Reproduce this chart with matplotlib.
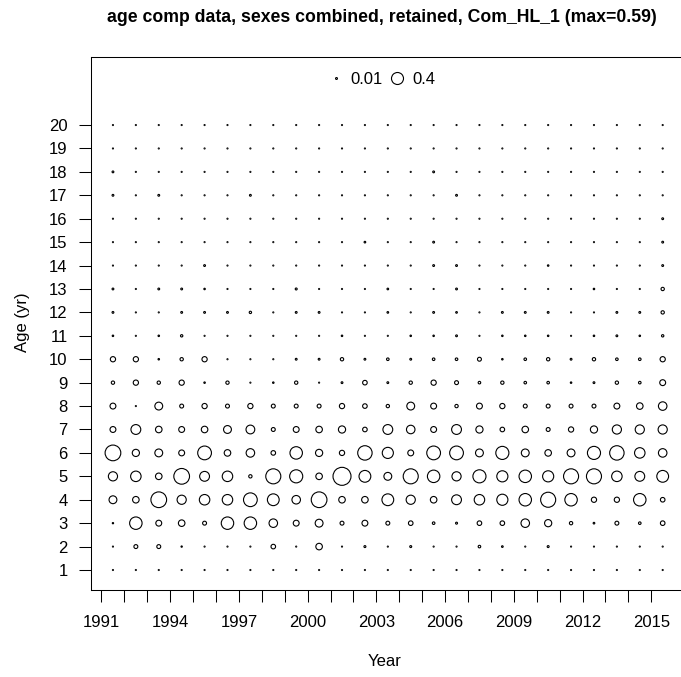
import numpy as np
import matplotlib
matplotlib.use("Agg")
import matplotlib.pyplot as plt
from matplotlib.lines import Line2D

plt.rcParams['font.family'] = ['Liberation Sans', 'DejaVu Sans']

years = list(range(1991, 2016))
ages = list(range(1, 21))
tick_labels = ['1991', '1994', '1997', '2000', '2003', '2006', '2009', '2012', '2015']

# proportion at age by year (1991 ... 2015)
age01 = [0.001, 0.001, 0.001, 0.001, 0.001, 0.001, 0.001, 0.001, 0.001, 0.001, 0.001, 0.001, 0.001,
         0.001, 0.001, 0.001, 0.001, 0.001, 0.001, 0.001, 0.001, 0.001, 0.001, 0.001, 0.001]
age02 = [0.001, 0.028, 0.028, 0.003, 0.001, 0.001, 0.001, 0.038, 0.001, 0.078, 0.001, 0.007, 0.001,
         0.007, 0.001, 0.001, 0.012, 0.005, 0.001, 0.007, 0.001, 0.001, 0.001, 0.001, 0.001]
age03 = [0.003, 0.282, 0.063, 0.078, 0.028, 0.282, 0.282, 0.132, 0.063, 0.112, 0.028, 0.063, 0.028,
         0.038, 0.012, 0.007, 0.038, 0.038, 0.132, 0.094, 0.020, 0.005, 0.028, 0.012, 0.038]
age04 = [0.112, 0.078, 0.449, 0.153, 0.200, 0.200, 0.344, 0.253, 0.132, 0.449, 0.078, 0.078, 0.253,
         0.153, 0.078, 0.176, 0.200, 0.225, 0.282, 0.412, 0.282, 0.050, 0.050, 0.282, 0.038]
age05 = [0.153, 0.200, 0.078, 0.449, 0.176, 0.200, 0.020, 0.412, 0.312, 0.078, 0.590, 0.253, 0.112,
         0.412, 0.282, 0.153, 0.312, 0.225, 0.282, 0.225, 0.412, 0.412, 0.200, 0.176, 0.253]
age06 = [0.449, 0.094, 0.112, 0.063, 0.344, 0.078, 0.132, 0.038, 0.282, 0.094, 0.050, 0.378, 0.225,
         0.063, 0.344, 0.344, 0.112, 0.312, 0.112, 0.078, 0.112, 0.312, 0.378, 0.200, 0.132]
age07 = [0.063, 0.176, 0.078, 0.063, 0.078, 0.112, 0.140, 0.028, 0.063, 0.078, 0.094, 0.038, 0.176,
         0.132, 0.063, 0.176, 0.094, 0.038, 0.078, 0.028, 0.050, 0.094, 0.153, 0.153, 0.153]
age08 = [0.063, 0.001, 0.112, 0.028, 0.050, 0.028, 0.050, 0.028, 0.028, 0.028, 0.050, 0.038, 0.020,
         0.112, 0.063, 0.020, 0.063, 0.050, 0.028, 0.028, 0.028, 0.028, 0.063, 0.078, 0.132]
age09 = [0.020, 0.050, 0.020, 0.050, 0.004, 0.020, 0.001, 0.004, 0.020, 0.002, 0.006, 0.038, 0.006,
         0.020, 0.050, 0.028, 0.012, 0.020, 0.012, 0.012, 0.004, 0.006, 0.020, 0.012, 0.063]
age10 = [0.050, 0.050, 0.004, 0.020, 0.050, 0.001, 0.001, 0.001, 0.006, 0.006, 0.020, 0.006, 0.012,
         0.006, 0.012, 0.012, 0.028, 0.004, 0.012, 0.020, 0.006, 0.020, 0.012, 0.012, 0.050]
age11 = [0.004, 0.002, 0.004, 0.010, 0.002, 0.002, 0.002, 0.002, 0.002, 0.002, 0.004, 0.002, 0.002,
         0.004, 0.004, 0.006, 0.002, 0.004, 0.004, 0.004, 0.002, 0.004, 0.006, 0.004, 0.010]
age12 = [0.006, 0.001, 0.001, 0.006, 0.006, 0.006, 0.010, 0.001, 0.006, 0.006, 0.001, 0.001, 0.005,
         0.001, 0.006, 0.005, 0.001, 0.006, 0.006, 0.006, 0.001, 0.001, 0.006, 0.006, 0.020]
age13 = [0.006, 0.001, 0.006, 0.006, 0.004, 0.001, 0.001, 0.001, 0.007, 0.001, 0.001, 0.001, 0.005,
         0.001, 0.001, 0.006, 0.001, 0.001, 0.001, 0.001, 0.001, 0.004, 0.001, 0.001, 0.020]
age14 = [0.001, 0.001, 0.001, 0.001, 0.006, 0.001, 0.001, 0.001, 0.001, 0.001, 0.001, 0.001, 0.001,
         0.001, 0.006, 0.006, 0.001, 0.001, 0.001, 0.004, 0.001, 0.001, 0.001, 0.001, 0.006]
age15 = [0.001, 0.001, 0.001, 0.001, 0.001, 0.001, 0.001, 0.001, 0.001, 0.001, 0.001, 0.005, 0.001,
         0.001, 0.006, 0.001, 0.001, 0.001, 0.001, 0.001, 0.001, 0.001, 0.001, 0.001, 0.006]
age16 = [0.001, 0.001, 0.001, 0.001, 0.001, 0.001, 0.001, 0.001, 0.001, 0.001, 0.001, 0.001, 0.001,
         0.001, 0.001, 0.001, 0.001, 0.001, 0.001, 0.001, 0.001, 0.001, 0.001, 0.001, 0.006]
age17 = [0.006, 0.001, 0.006, 0.001, 0.001, 0.001, 0.006, 0.001, 0.001, 0.001, 0.001, 0.001, 0.001,
         0.001, 0.001, 0.006, 0.001, 0.001, 0.001, 0.001, 0.001, 0.001, 0.001, 0.001, 0.001]
age18 = [0.006, 0.001, 0.001, 0.001, 0.001, 0.001, 0.001, 0.001, 0.001, 0.001, 0.001, 0.001, 0.001,
         0.001, 0.006, 0.001, 0.001, 0.001, 0.001, 0.001, 0.001, 0.001, 0.001, 0.001, 0.001]
age19 = [0.001, 0.001, 0.001, 0.001, 0.001, 0.001, 0.001, 0.001, 0.001, 0.001, 0.001, 0.001, 0.001,
         0.001, 0.001, 0.001, 0.001, 0.001, 0.001, 0.001, 0.001, 0.001, 0.001, 0.001, 0.001]
age20 = [0.001, 0.001, 0.001, 0.001, 0.001, 0.001, 0.001, 0.001, 0.001, 0.001, 0.001, 0.001, 0.001,
         0.001, 0.001, 0.001, 0.001, 0.001, 0.001, 0.001, 0.001, 0.001, 0.001, 0.001, 0.001]

comps = [age01, age02, age03, age04, age05, age06, age07, age08, age09, age10,
         age11, age12, age13, age14, age15, age16, age17, age18, age19, age20]
legend_vals = [0.01, 0.4]

pmax = max(max(row) for row in comps)


def bubble_pt(p):
    # bubble diameter in points, area proportional to p
    d_px = max(18.0 * np.sqrt(p / pmax), 1.3)
    return d_px * 72 / 100


fig = plt.figure(figsize=(6.81, 6.77), dpi=100)
ax = fig.add_axes([0.1329, 0.1285, 0.8725, 0.7878])

x = np.array(years) + 0.5
for age, row in zip(ages, comps):
    sizes = [bubble_pt(p) ** 2 for p in row]
    lws = [0.8 if p > 0.002 else 0.6 for p in row]
    ax.scatter(x, [age] * len(x), s=sizes, facecolors='none', edgecolors='black',
               linewidths=lws, zorder=3)

ax.set_xlim(1990.52, 2016.46)
ax.set_ylim(0.146, 22.92)

ax.set_xticks(years)
ax.set_xticklabels([str(y) if str(y) in tick_labels else '' for y in years])
ax.set_yticks(ages)
ax.set_yticklabels([str(a) for a in ages])
ax.tick_params(axis='both', length=8.5, width=0.75, labelsize=12, pad=8, color='black')
ax.tick_params(axis='x', pad=9.5)
for sp in ax.spines.values():
    sp.set_linewidth(0.75)

# legend circles drawn a little smaller than the data scale, as in the source
handles = [Line2D([], [], marker='o', ls='none', mfc='none', mec='black', mew=0.8,
                  markersize=bubble_pt(v) * 0.81) for v in legend_vals]
ax.legend(handles, [str(v) for v in legend_vals], loc='center', bbox_to_anchor=(0.489, 0.958),
          ncol=2, frameon=False, handletextpad=0.4, columnspacing=0.35, handlelength=1.0,
          fontsize=12, borderpad=0)

cx = 0.1329 + 0.8725 / 2
fig.text(cx - 0.008, 1 - 18 / 677, 'age comp data, sexes combined, retained, Com_HL_1 (max=0.59)',
         ha='center', va='center', fontsize=12.7, fontweight='bold')
fig.text(cx - 0.004, 1 - 662 / 677, 'Year', ha='center', va='center', fontsize=12)
fig.text(22 / 681, 1 - 322 / 677, 'Age (yr)', ha='center', va='center', rotation=90, fontsize=12)

fig.savefig('out.png', dpi=100)
